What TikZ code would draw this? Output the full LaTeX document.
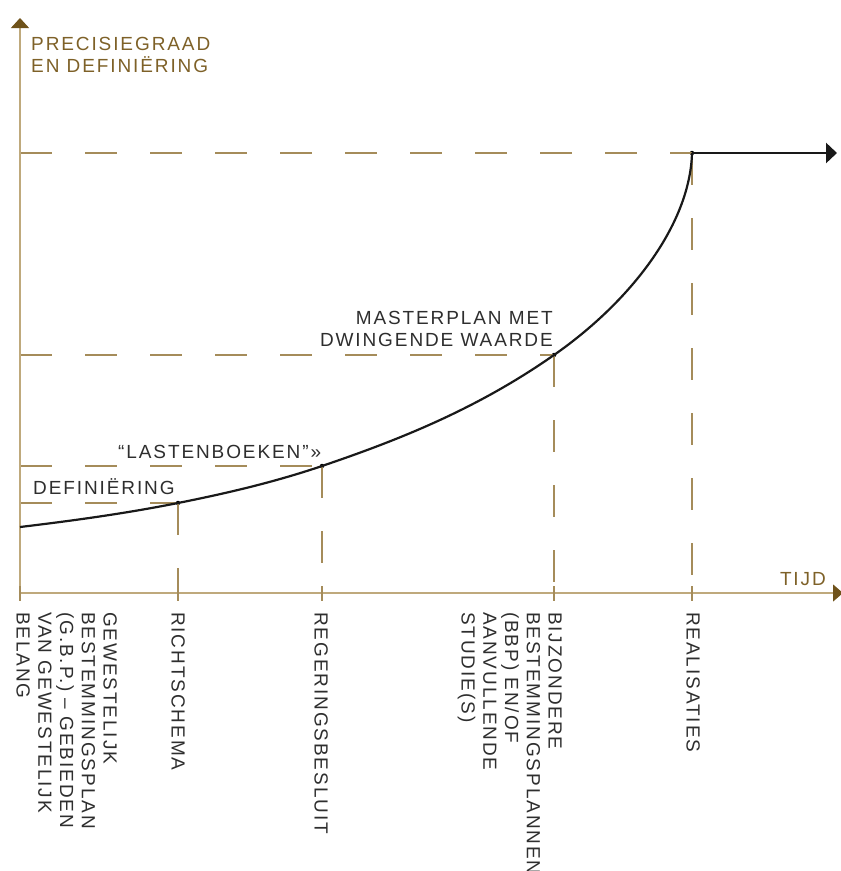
\documentclass[tikz,border=0pt]{standalone}
\usepackage{fontspec}
\setmainfont{Liberation Sans}[LetterSpace=10]
\usepackage{tikz}
\usetikzlibrary{arrows.meta}
\definecolor{axisgold}{HTML}{BFA97C}
\definecolor{labelgold}{HTML}{7E6128}
\definecolor{guidegold}{HTML}{A58C5A}
\definecolor{tipgold}{HTML}{6F521A}
\definecolor{inkgray}{HTML}{2E2E2E}

\begin{document}
\begin{tikzpicture}[x = 1pt, y = -1pt,
  axis/.style = {draw = axisgold, line width = 1.3pt},
  guide/.style = {draw = guidegold, line width = 1.2pt, dash pattern = on 32pt off 33pt},
  tickmark/.style = {draw = guidegold, line width = 1.2pt},
  curve/.style = {draw = black!90, line width = 2.2pt},
  dot/.style = {circle, fill = black, inner sep = 0pt, minimum size = 4.5pt},
  lbl/.style = {font = \fontsize{19}{21.7}\selectfont, text = inkgray, inner sep = 0pt},
  axislbl/.style = {lbl, text = labelgold},
  vlbl/.style = {lbl, rotate = -90, align = left, anchor = north west}]
\useasboundingbox (0,0) rectangle (841,871);
\coordinate (o) at (20,593);
\coordinate (ytop) at (20,18);
\coordinate (xend) at (843,593);
\coordinate (c0) at (20,527);
\coordinate (fin) at (837,153);
\node[dot] (p1) at (178,503) {};
\node[dot] (p2) at (322,466) {};
\node[dot] (p3) at (554,355) {};
\node[dot] (p4) at (692,153) {};
\foreach \p in {p1,p2,p3,p4} {
  \draw[guide] (o |- \p.center) -- (\p.center);
  \draw[guide] (\p.center) -- (\p |- o);
}
\draw[axis, -{Triangle[length = 10pt, width = 18pt, color = tipgold]}] (o) -- (ytop);
\draw[axis, -{Triangle[length = 10pt, width = 17pt, color = tipgold]}] (o) -- (xend);
\foreach \t in {o,p1,p2,p3,p4} {
  \draw[tickmark] (\t |- o) ++(0,-7) -- ++(0,15);
}
\draw[curve] (c0) .. controls (72.7,520.7) and (125.3,513.5) .. (p1.center)
  .. controls (226,493.4) and (274,482.3) .. (p2.center)
  .. controls (399.3,439.7) and (476.7,409.1) .. (p3.center)
  .. controls (630,302) and (690,225) .. (p4.center);
\draw[curve, line width = 2.8pt, -{Triangle[length = 11pt, width = 20pt]}] (p4.center) -- (fin);
\node[axislbl, anchor = north west, align = left] (ylab) at (31,37) {PRECISIEGRAAD\\EN DEFINIËRING};
\node[axislbl, anchor = base east] (xlab) at (826,585) {TIJD};
\node[lbl, anchor = base west] (def) at (33,494) {DEFINIËRING};
\node[lbl, anchor = base west] (last) at (118,458) {“LASTENBOEKEN”»};
\node[lbl, anchor = south east, align = right] (master) at (553,347) {MASTERPLAN MET\\DWINGENDE WAARDE};
\node[vlbl] (gbp) at (117,612) {GEWESTELIJK\\BESTEMMINGSPLAN\\(G.B.P.) -- GEBIEDEN\\VAN GEWESTELIJK\\BELANG};
\node[vlbl] (richt) at (185,612) {RICHTSCHEMA};
\node[vlbl] (reg) at (328,612) {REGERINGSBESLUIT};
\node[vlbl] (bbp) at (562,612) {BIJZONDERE\\BESTEMMINGSPLANNEN\\(BBP) EN/OF\\AANVULLENDE\\STUDIE(S)};
\node[vlbl] (real) at (700,612) {REALISATIES};
\end{tikzpicture}
\end{document}
